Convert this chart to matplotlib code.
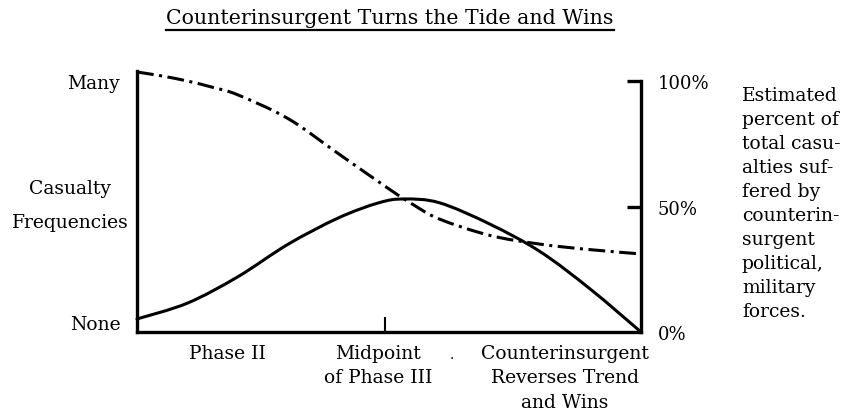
import matplotlib
matplotlib.use("Agg")
import matplotlib.pyplot as plt
import matplotlib.transforms as mtransforms
from matplotlib.path import Path
from matplotlib.patches import PathPatch

plt.rcParams['font.family'] = ['DejaVu Serif']

# ---- data (x: percent of time span along the bottom axis, y: percent on right axis)
solid_x = [0, 10, 20, 30, 40, 48, 53, 60, 70, 80, 90, 100]
solid_y = [5.2, 11.5, 22.0, 35.0, 45.5, 51.5, 53.0, 51.5, 43.0, 32.0, 17.0, 0]

dash_x = [0, 5, 10, 15, 20, 30, 40, 50, 55, 60, 70, 80, 90, 100]
dash_y = [103.6, 102.0, 100.0, 97.5, 94.5, 85.0, 71.0, 57.0, 50.5, 45.0, 38.5, 35.0, 32.8, 31.1]

title = "Counterinsurgent Turns the Tide and Wins"
left_tick_pos = [4, 100]
left_tick_labels = ["None", "Many"]
left_axis_label = "Casualty\nFrequencies"
right_tick_pos = [0, 50, 100]
right_tick_labels = ["0%", "50%", "100%"]
mid_tick = [49.2]
bottom_label_pos = [17.9, 47.8, 84.9]
bottom_labels = ["Phase II", "Midpoint\nof Phase III", "Counterinsurgent\nReverses Trend\nand Wins"]
side_note = ("Estimated\npercent of\ntotal casu-\nalties suf-\nfered by\ncounterin-\n"
             "surgent\npolitical,\nmilitary\nforces.")


def smooth_path(xs, ys):
    """Catmull-Rom curve through the given points, as cubic Bezier segments."""
    pts = list(zip(xs, ys))
    verts = [pts[0]]
    codes = [Path.MOVETO]
    n = len(pts)
    for i in range(n - 1):
        p0 = pts[i - 1] if i > 0 else pts[i]
        p1 = pts[i]
        p2 = pts[i + 1]
        p3 = pts[i + 2] if i + 2 < n else pts[i + 1]
        c1 = (p1[0] + (p2[0] - p0[0]) / 6.0, p1[1] + (p2[1] - p0[1]) / 6.0)
        c2 = (p2[0] - (p3[0] - p1[0]) / 6.0, p2[1] - (p3[1] - p1[1]) / 6.0)
        verts += [c1, c2, p2]
        codes += [Path.CURVE4, Path.CURVE4, Path.CURVE4]
    return Path(verts, codes)


W, H = 851, 414
fig = plt.figure(figsize=(W / 100, H / 100), dpi=100)
fig.patch.set_facecolor("white")

x0, x1, ytop, ybot = 137, 641, 72, 333
ax = fig.add_axes([x0 / W, (H - ybot) / H, (x1 - x0) / W, (ybot - ytop) / H])
ymax = 104.0
ax.set_xlim(0, 100)
ax.set_ylim(0, ymax)

lw_axis = 2.4
lw_curve = 2.2
ax.add_patch(PathPatch(smooth_path(solid_x, solid_y), fill=False, edgecolor="black",
                       lw=lw_curve, capstyle="round", clip_on=False))
ax.add_patch(PathPatch(smooth_path(dash_x, dash_y), fill=False, edgecolor="black",
                       lw=lw_curve, linestyle=(0, (5.5, 1.8, 1.0, 1.8)), clip_on=False))

ax.spines["top"].set_visible(False)
for s in ["left", "bottom", "right"]:
    ax.spines[s].set_linewidth(lw_axis)
    ax.spines[s].set_color("black")
ax.spines["right"].set_bounds(0, 100)

fs = 13.5

# left: text labels, no tick marks
ax.set_yticks(left_tick_pos)
ax.set_yticklabels(left_tick_labels, fontsize=fs)
ax.tick_params(axis="y", which="both", left=True, length=0, pad=12, right=False)

# bottom: one tick at midpoint of Phase III
ax.set_xticks(mid_tick)
ax.set_xticklabels([""])
ax.tick_params(axis="x", direction="in", length=11, width=1.5)

# right axis
ax2 = ax.twinx()
ax2.set_ylim(0, ymax)
for s in ["top", "left", "bottom", "right"]:
    ax2.spines[s].set_visible(False)
ax2.set_yticks(right_tick_pos)
ax2.set_yticklabels(right_tick_labels, fontsize=fs - 0.5)
ax2.tick_params(axis="y", direction="in", length=10, width=2.4, pad=12)
ax2.yaxis.get_major_ticks()[0].tick2line.set_visible(False)

# left axis title
fig.text(70 / W, 1 - 206 / H, left_axis_label, ha="center", va="center", fontsize=fs,
         linespacing=2.15)

# bottom labels
trans = mtransforms.blended_transform_factory(ax.transData, fig.transFigure)
for xp, lab in zip(bottom_label_pos, bottom_labels):
    ax.text(xp, 1 - 345 / H, lab, transform=trans, ha="center", va="top", fontsize=fs,
            linespacing=1.45)
fig.text(452 / W, 1 - 355 / H, ".", ha="center", va="center", fontsize=10)

# side note
fig.text(742 / W, 1 - 87 / H, side_note, ha="left", va="top", fontsize=fs, linespacing=1.425)

# title with underline
t = fig.text(390 / W, 1 - 19 / H, title, ha="center", va="center", fontsize=14.8)
fig.canvas.draw()
bb = t.get_window_extent()
fig.add_artist(plt.Line2D([bb.x0 / W, bb.x1 / W], [1 - 31 / H, 1 - 31 / H], color="black",
                          lw=1.6, transform=fig.transFigure))

fig.savefig("out.png", dpi=100, facecolor="white")
